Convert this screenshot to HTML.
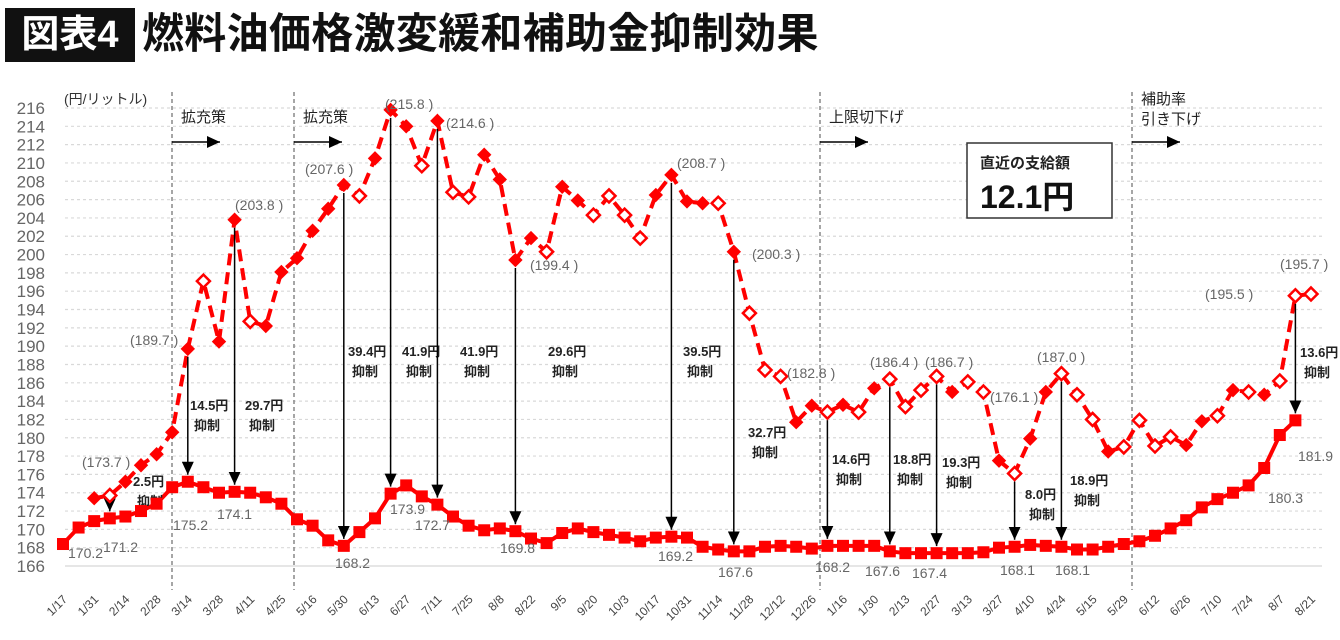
<!DOCTYPE html>
<html><head><meta charset="utf-8">
<style>
body{margin:0;background:#fff;width:1340px;height:640px;overflow:hidden;font-family:"Liberation Sans","Noto Sans CJK JP",sans-serif;}
#title-badge{position:absolute;left:5px;top:8px;width:130px;height:54px;background:#111;color:#fff;font:700 38px "Liberation Sans","Noto Sans CJK JP",sans-serif;line-height:54px;text-align:center;}
#title{position:absolute;left:142px;top:4px;font:700 42px "Liberation Sans","Noto Sans CJK JP",sans-serif;line-height:60px;color:#111;letter-spacing:0.3px;}
svg{position:absolute;left:0;top:0;}
</style></head><body>
<div id="title-badge">図表4</div>
<div id="title">燃料油価格激変緩和補助金抑制効果</div>
<svg id="chart" width="1340" height="640"></svg>
<script>
const xLabels=["1/17","1/31","2/14","2/28","3/14","3/28","4/11","4/25","5/16","5/30","6/13","6/27","7/11","7/25","8/8","8/22","9/5","9/20","10/3","10/17","10/31","11/14","11/28","12/12","12/26","1/16","1/30","2/13","2/27","3/13","3/27","4/10","4/24","5/15","5/29","6/12","6/26","7/10","7/24","8/7","8/21"];
const yTicks=[166,168,170,172,174,176,178,180,182,184,186,188,190,192,194,196,198,200,202,204,206,208,210,212,214,216];
// actual (subsidized) price, index 0..79
const actual=[168.4,170.2,170.9,171.2,171.4,172.0,172.8,174.6,175.2,174.6,174.0,174.1,174.0,173.5,172.8,171.1,170.4,168.8,168.2,169.7,171.2,173.9,174.8,173.6,172.7,171.4,170.4,169.9,170.1,169.8,169.0,168.5,169.6,170.1,169.7,169.4,169.1,168.7,169.1,169.2,169.1,168.1,167.8,167.6,167.6,168.1,168.2,168.1,167.9,168.2,168.2,168.2,168.2,167.6,167.4,167.4,167.4,167.4,167.4,167.5,168.0,168.1,168.3,168.2,168.1,167.8,167.8,168.1,168.4,168.7,169.3,170.1,171.0,172.4,173.3,174.0,174.8,176.7,180.3,181.9];
// price without subsidy, starts at index 2, ends index 80
const dashStart=2;
const noSubsidy=[173.4,173.7,175.2,177.0,178.2,180.6,189.7,197.1,190.5,203.8,192.7,192.2,198.1,199.6,202.6,205.0,207.6,206.4,210.5,215.8,214.0,209.7,214.6,206.8,206.3,210.9,208.2,199.4,201.8,200.3,207.4,205.9,204.3,206.4,204.3,201.8,206.5,208.7,205.8,205.6,205.6,200.3,193.6,187.4,186.7,181.7,183.5,182.8,183.6,182.8,185.4,186.4,183.4,185.2,186.7,185.0,186.1,185.0,177.5,176.1,179.9,185.0,187.0,184.7,182.0,178.5,179.0,181.9,179.1,180.1,179.2,181.8,182.4,185.2,185.0,184.7,186.2,195.5,195.7];
const hollow=[3,9,12,19,23,25,26,31,34,35,36,37,42,44,45,46,49,51,53,54,55,56,58,59,61,64,65,66,68,69,70,71,74,76,78,79,80];
const arrowIdx=[3,8,11,18,21,24,29,39,43,49,53,56,61,64,79];
const effectText=["2.5円","14.5円","29.7円","39.4円","41.9円","41.9円","29.6円","39.5円","32.7円","14.6円","18.8円","19.3円","8.0円","18.9円","13.6円"];
const effectPos=[[133,481],[190,405],[245,405],[348,351],[402,351],[460,351],[548,351],[683,351],[748,432],[832,459],[893,459],[942,462],[1025,494],[1070,480],[1300,352]];
const dashLabelIdx=[3,8,11,18,21,24,29,39,43,49,53,56,61,64,79,80];
const dashLabelPos=[[82,462],[130,340],[235,205],[305,169],[385,104],[446,123],[530,265],[677,163],[752,254],[787,373],[870,362],[925,362],[990,397],[1037,357],[1205,294],[1280,264]];
const solidLabelIdx=[1,3,8,11,18,21,24,29,39,43,49,53,56,61,64,78,79];
const solidLabelPos=[[68,553],[103,547],[173,525],[217,514],[335,563],[390,509],[415,525],[500,548],[658,556],[718,572],[815,567],[865,571],[912,573],[1000,570],[1055,570],[1268,498],[1298,456]];

const X0=63,DX=15.6,YB=566,PU=9.16;
const xs=i=>X0+DX*i, ys=v=>YB-(v-166)*PU;
const svg=document.getElementById('chart');const NS='http://www.w3.org/2000/svg';
function mk(t,a,p){const e=document.createElementNS(NS,t);for(const k in a)e.setAttribute(k,a[k]);(p||svg).appendChild(e);return e;}
const FONT='"Liberation Sans","Noto Sans CJK JP",sans-serif';
const defs=mk('defs',{});
const mrk=mk('marker',{id:'ah',markerWidth:14,markerHeight:12,refX:13,refY:6,orient:'auto',markerUnits:'userSpaceOnUse'},defs);
mk('path',{d:'M0,0 L13,6 L0,12 z',fill:'#000'},mrk);

yTicks.forEach(v=>{
 const g=mk('line',{x1:65,x2:1322,y1:ys(v),y2:ys(v),stroke:v===166?'#d6d6d6':'#d9d9d9','stroke-width':1.2,'stroke-dasharray':v===166?'':'3,3'});
 
 
 const t=mk('text',{x:45,y:ys(v)+6,'text-anchor':'end','font-size':17,fill:'#666','font-family':FONT});
 t.textContent=v;
 
 
});
const unit=mk('text',{x:64,y:104,'font-size':14,fill:'#333','font-family':FONT});unit.textContent='(円/リットル)';



xLabels.forEach((l,k)=>{
 const x=xs(2*k)+5,y=600;
 const t=mk('text',{x:x,y:y,'text-anchor':'end','font-size':12,fill:'#444','font-family':FONT,transform:`rotate(-45 ${x} ${y})`});
 t.textContent=l;
 
 
});

const phases=[[172,'拡充策',null],[294,'拡充策',null],[820,'上限切下げ',null],[1132,'補助率','引き下げ']];
phases.forEach(p=>{
 const l=mk('line',{x1:p[0],x2:p[0],y1:92,y2:590,stroke:'#888','stroke-width':1.5,'stroke-dasharray':'4,3'});
 
 
 const t=mk('text',{x:p[0]+9,y:p[2]?104:122,'font-size':15,fill:'#222','font-family':FONT});t.textContent=p[1];
 
 
 if(p[2]){const t2=mk('text',{x:p[0]+9,y:124,'font-size':15,fill:'#222','font-family':FONT});t2.textContent=p[2];
 
 }
 mk('line',{x1:p[0],x2:p[0]+48,y1:142,y2:142,stroke:'#000','stroke-width':1.5,'marker-end':'url(#ah)'});
});

const bx=mk('rect',{x:967,y:143,width:145,height:75,fill:'#fff',stroke:'#333','stroke-width':1.5});


const bt1=mk('text',{x:980,y:168,'font-size':15,fill:'#222','font-family':FONT,'font-weight':700});bt1.textContent='直近の支給額';
const bt2=mk('text',{x:980,y:208,'font-size':32,fill:'#111','font-family':FONT,'font-weight':700});bt2.textContent='12.1円';



let d='';actual.forEach((v,i)=>{d+=(i?'L':'M')+xs(i)+','+ys(v);});
const sl=mk('path',{d:d,fill:'none',stroke:'#f00','stroke-width':4});


d='';noSubsidy.forEach((v,i)=>{d+=(i?'L':'M')+xs(i+dashStart)+','+ys(v);});
const dl=mk('path',{d:d,fill:'none',stroke:'#f00','stroke-width':4,'stroke-dasharray':'12,7'});



arrowIdx.forEach((i,k)=>{
 const y1=ys(noSubsidy[i-dashStart])+8,y2=ys(actual[i])-7;
 const a=mk('line',{x1:xs(i),x2:xs(i),y1:y1,y2:y2,stroke:'#000','stroke-width':1.5,'marker-end':'url(#ah)'});
 
 
 const p=effectPos[k];
 const t=mk('text',{x:p[0],y:p[1]+5,'font-size':13,'font-weight':700,fill:'#222','font-family':FONT});t.textContent=effectText[k];
 
 
 const t2=mk('text',{x:p[0]+4,y:p[1]+25,'font-size':13,'font-weight':700,fill:'#222','font-family':FONT});t2.textContent='抑制';
});

actual.forEach((v,i)=>{
 const r=mk('rect',{x:xs(i)-6,y:ys(v)-6,width:12,height:12,fill:'#f00'});
 
 
});
noSubsidy.forEach((v,j)=>{
 const i=j+dashStart,x=xs(i),y=ys(v),h=hollow.includes(i);
 const p=mk('path',{d:`M${x},${y-6.5}L${x+6.5},${y}L${x},${y+6.5}L${x-6.5},${y}Z`,fill:h?'#fff':'#f00',stroke:'#f00','stroke-width':h?2.5:1});
 
 
});

dashLabelIdx.forEach((i,k)=>{
 const p=dashLabelPos[k];
 const t=mk('text',{x:p[0],y:p[1]+5,'font-size':14,fill:'#666','font-family':FONT});
 t.textContent='('+noSubsidy[i-dashStart].toFixed(1)+' )';
 
 
});
solidLabelIdx.forEach((i,k)=>{
 const p=solidLabelPos[k];
 const t=mk('text',{x:p[0],y:p[1]+5,'font-size':14,fill:'#666','font-family':FONT});
 t.textContent=actual[i].toFixed(1);
 
 
});
</script>
</body></html>
